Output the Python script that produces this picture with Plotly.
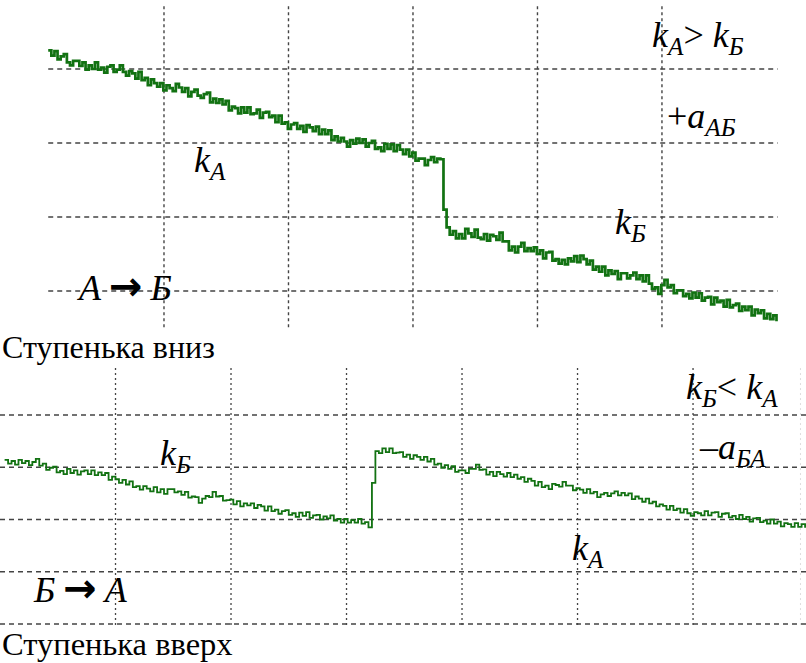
import plotly.graph_objects as go

# ---------------- data (in grid divisions) ----------------
TOP_T0, TOP_DT = 0.07, 0.025   # sample start / interval of upper trace (div)
top_signal = [
    3.25, 3.18, 3.24, 3.13, 3.17, 3.20, 3.09, 3.05, 3.11, 3.11,
    3.04, 3.09, 2.99, 3.05, 3.00, 3.09, 2.99, 3.02, 2.95, 3.03,
    3.05, 2.96, 2.99, 3.05, 2.96, 2.91, 2.97, 2.94, 2.87, 2.96,
    2.85, 2.88, 2.78, 2.86, 2.81, 2.76, 2.81, 2.71, 2.78, 2.74,
    2.70, 2.80, 2.75, 2.69, 2.74, 2.63, 2.69, 2.72, 2.64, 2.61,
    2.66, 2.68, 2.55, 2.60, 2.54, 2.59, 2.52, 2.57, 2.44, 2.49,
    2.47, 2.40, 2.48, 2.41, 2.48, 2.39, 2.40, 2.45, 2.34, 2.41,
    2.42, 2.35, 2.37, 2.28, 2.37, 2.26, 2.28, 2.19, 2.25, 2.27,
    2.19, 2.23, 2.15, 2.24, 2.21, 2.16, 2.22, 2.12, 2.18, 2.12,
    2.17, 2.04, 2.09, 2.02, 2.07, 2.02, 1.95, 2.04, 1.99, 2.06,
    2.00, 2.05, 1.95, 2.00, 2.03, 1.92, 1.94, 1.89, 1.99, 1.92,
    1.98, 1.89, 1.97, 1.91, 1.85, 1.91, 1.82, 1.87, 1.76, 1.79,
    1.79, 1.70, 1.77, 1.81, 1.74, 1.79, 1.78, 1.10, 0.86, 0.76,
    0.81, 0.71, 0.77, 0.71, 0.84, 0.78, 0.73, 0.83, 0.72, 0.70,
    0.77, 0.68, 0.76, 0.74, 0.69, 0.79, 0.67, 0.67, 0.55, 0.60,
    0.52, 0.60, 0.65, 0.54, 0.58, 0.54, 0.59, 0.50, 0.55, 0.44,
    0.52, 0.53, 0.41, 0.43, 0.37, 0.42, 0.36, 0.44, 0.40, 0.47,
    0.39, 0.48, 0.43, 0.36, 0.41, 0.29, 0.33, 0.26, 0.33, 0.21,
    0.28, 0.23, 0.27, 0.16, 0.24, 0.24, 0.17, 0.21, 0.25, 0.16,
    0.21, 0.13, 0.21, 0.10, 0.03, 0.05, -0.04, 0.08, 0.15, 0.05,
    0.08, -0.03, 0.01, 0.01, -0.07, -0.04, -0.10, -0.02, -0.09, -0.03,
    -0.13, -0.09, -0.08, -0.18, -0.09, -0.15, -0.13, -0.21, -0.12, -0.22,
    -0.19, -0.17, -0.27, -0.21, -0.26, -0.21, -0.33, -0.25, -0.30, -0.26,
    -0.37, -0.31, -0.38, -0.33, -0.41,
]

BOT_T0, BOT_DT = 0.04, 0.03   # sample start / interval of lower trace (div)
bottom_signal = [
    3.14, 3.07, 3.12, 3.05, 3.14, 3.08, 3.12, 3.04, 3.10, 3.16,
    3.03, 3.07, 2.95, 2.99, 3.01, 2.90, 2.93, 2.87, 2.97, 2.89,
    2.94, 2.86, 2.92, 2.94, 2.87, 2.94, 2.85, 2.90, 2.85, 2.89,
    2.76, 2.82, 2.77, 2.70, 2.76, 2.67, 2.73, 2.62, 2.64, 2.57,
    2.64, 2.59, 2.54, 2.62, 2.52, 2.58, 2.49, 2.58, 2.58, 2.52,
    2.54, 2.47, 2.53, 2.42, 2.44, 2.43, 2.32, 2.40, 2.45, 2.43,
    2.53, 2.44, 2.45, 2.36, 2.37, 2.38, 2.29, 2.35, 2.25, 2.31,
    2.27, 2.31, 2.22, 2.28, 2.25, 2.17, 2.25, 2.16, 2.19, 2.11,
    2.16, 2.18, 2.09, 2.12, 2.05, 2.13, 2.07, 2.14, 2.03, 2.08,
    2.09, 2.00, 2.06, 2.02, 2.08, 1.98, 2.01, 1.94, 2.01, 1.94,
    1.99, 1.94, 2.01, 1.92, 1.95, 1.85, 2.70, 3.31, 3.27, 3.36,
    3.29, 3.36, 3.27, 3.28, 3.29, 3.20, 3.24, 3.16, 3.23, 3.20,
    3.14, 3.20, 3.11, 3.16, 3.05, 3.07, 2.99, 3.04, 2.97, 3.02,
    2.91, 2.94, 2.94, 2.89, 2.97, 2.97, 3.05, 2.95, 2.96, 2.86,
    2.91, 2.83, 2.91, 2.87, 2.82, 2.89, 2.81, 2.86, 2.78, 2.81,
    2.72, 2.78, 2.74, 2.65, 2.72, 2.62, 2.65, 2.58, 2.68, 2.66,
    2.63, 2.72, 2.65, 2.65, 2.56, 2.60, 2.57, 2.51, 2.58, 2.50,
    2.53, 2.43, 2.48, 2.51, 2.45, 2.50, 2.54, 2.46, 2.51, 2.46,
    2.50, 2.39, 2.44, 2.40, 2.34, 2.40, 2.31, 2.34, 2.25, 2.29,
    2.26, 2.19, 2.26, 2.18, 2.21, 2.13, 2.20, 2.12, 2.07, 2.14,
    2.12, 2.08, 2.16, 2.08, 2.13, 2.14, 2.05, 2.11, 2.12, 2.04,
    2.07, 2.01, 2.09, 2.01, 2.05, 1.96, 2.02, 2.03, 1.95, 1.98,
    1.92, 2.00, 1.92, 1.96, 1.87, 1.93, 1.91, 1.86, 1.93, 1.86,
    1.91, 1.84,
]

top_vgrid = [1, 2, 3, 4, 5]
top_hgrid = [0, 1, 2, 3]
bot_vgrid = [1, 2, 3, 4, 5, 6]
bot_hgrid = [0, 1, 2, 3, 4]

caption_top = "Ступенька вниз"
caption_bottom = "Ступенька вверх"

top_t = [round(TOP_T0 + i * TOP_DT, 4) for i in range(len(top_signal))]
bot_t = [round(BOT_T0 + i * BOT_DT, 4) for i in range(len(bottom_signal))]

# ---------------- figure ----------------
W, H = 806, 663
TRACE = "#127212"
GRID = "#444444"
SERIF = "Liberation Serif"

fig = go.Figure()
fig.add_trace(go.Scatter(x=top_t, y=top_signal, mode="lines", line_shape="hv",
                         line=dict(color=TRACE, width=2.7), xaxis="x", yaxis="y",
                         hoverinfo="skip", showlegend=False))
fig.add_trace(go.Scatter(x=bot_t, y=bottom_signal, mode="lines", line_shape="hv",
                         line=dict(color=TRACE, width=1.8), xaxis="x2", yaxis="y2",
                         hoverinfo="skip", showlegend=False))

shapes = []
for g in top_vgrid:
    shapes.append(dict(type="line", xref="x", yref="y", x0=g, x1=g, y0=-0.49, y1=3.85,
                       line=dict(color=GRID, width=1.4, dash="3px,3px"), layer="below"))
for g in top_hgrid:
    shapes.append(dict(type="line", xref="x", yref="y", x0=0.07, x1=5.93, y0=g, y1=g,
                       line=dict(color=GRID, width=1.4, dash="5px,4px"), layer="below"))
for g in bot_vgrid:
    shapes.append(dict(type="line", xref="x2", yref="y2", x0=g, x1=g, y0=-0.02, y1=4.92,
                       line=dict(color=GRID, width=1.3, dash="2px,3px"), layer="below"))
shapes.append(dict(type="line", xref="x2", yref="y2", x0=6.93, x1=6.93, y0=-0.02, y1=4.92,
                   line=dict(color="#dddddd", width=1, dash="2px,3px"), layer="below"))
for g in bot_hgrid:
    shapes.append(dict(type="line", xref="x2", yref="y2", x0=0, x1=6.98, y0=g, y1=g,
                       line=dict(color=GRID, width=1.3, dash="5px,4px"), layer="below"))


def px(x, y):
    return x / W, 1 - y / H


for (x0, y0, x1, y1) in [
    (166, 138, 258, 185),
    (55, 262, 195, 306),
    (581, 193, 678, 248),
    (640, 8, 760, 62),
    (645, 75, 760, 140),
    (133, 430, 218, 472),
    (15, 566, 147, 603),
    (650, 366, 790, 410),
    (660, 418, 790, 465),
    (543, 540, 631, 573),
]:
    a, b = px(x0, y0)
    c, d = px(x1, y1)
    shapes.append(dict(type="rect", xref="paper", yref="paper", x0=a, x1=c, y0=d, y1=b,
                       fillcolor="white", line=dict(width=0), layer="below"))

annotations = []


def label(text, x, y, size=36, anchor="center"):
    a, b = px(x, y)
    annotations.append(dict(text=text, x=a, y=b, xref="paper", yref="paper",
                            xanchor=anchor, yanchor="middle", showarrow=False,
                            font=dict(family=SERIF, size=size, color="black")))


ARROW = ('<span style="font-family:DejaVu Sans;font-weight:bold;font-size:40px">'
         '\u2009→\u2009</span>')
label("<i>k<sub>А</sub></i>", 210, 162)
label("<i>А</i>" + ARROW + "<i>Б</i>", 124, 286)
label("<i>k<sub>А</sub></i>> <i>k<sub>Б</sub></i>", 698, 37)
label("+<i>a<sub>АБ</sub></i>", 701, 118)
label("<i>k<sub>Б</sub></i>", 630, 224)
label("<i>k<sub>Б</sub></i>", 175, 455)
label("<i>Б</i>" + ARROW + "<i>А</i>", 80, 588)
label("<i>k<sub>Б</sub></i>< <i>k<sub>А</sub></i>", 732, 389)
label("–<i>a<sub>БА</sub></i>", 732, 449)
label("<i>k<sub>А</sub></i>", 588, 550)
label(caption_top, 0, 347, size=32, anchor="left")
label(caption_bottom, 0, 644, size=32.5, anchor="left")

fig.update_layout(
    width=W, height=H, margin=dict(l=0, r=0, t=0, b=0),
    paper_bgcolor="white", plot_bgcolor="white",
    font=dict(family=SERIF),
    shapes=shapes, annotations=annotations,
    xaxis=dict(domain=[0, 1], range=[-0.3173, 6.157], visible=False, fixedrange=True),
    yaxis=dict(domain=[1 - 340 / H, 1], range=[-0.662, 3.932], visible=False, fixedrange=True),
    xaxis2=dict(domain=[0, 1], range=[0, 6.978], visible=False, fixedrange=True),
    yaxis2=dict(domain=[0, 1 - 355 / H], range=[-0.746, 5.148], visible=False, fixedrange=True),
)

fig.write_html("out.html", post_script="document.body.style.margin='0';",
               config={"displayModeBar": False})
